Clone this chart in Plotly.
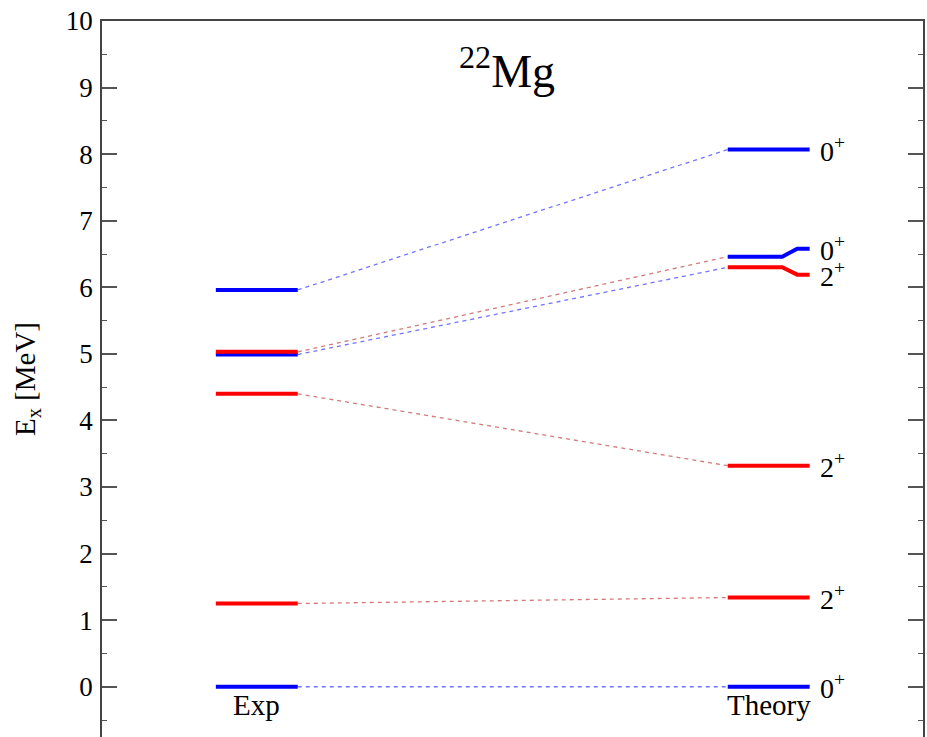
import plotly.graph_objects as go

# ---- data (MeV) ----
columns = ["Exp", "Theory"]
exp_levels = [0.0, 1.25, 4.40, 5.03, 4.99, 5.96]
exp_spin = [0, 2, 2, 2, 0, 0]
theory_levels = [0.0, 1.34, 3.32, 6.30, 6.46, 8.07]
theory_end_levels = [0.0, 1.34, 3.32, 6.19, 6.58, 8.07]
theory_spin = [0, 2, 2, 2, 0, 0]
theory_labels = ["0<sup>+</sup>", "2<sup>+</sup>", "2<sup>+</sup>", "2<sup>+</sup>", "0<sup>+</sup>", "0<sup>+</sup>"]
# exp index -> theory index
links = [(0, 0), (1, 1), (2, 2), (3, 4), (4, 3), (5, 5)]
y_ticks = [0, 1, 2, 3, 4, 5, 6, 7, 8, 9, 10]

# ---- styles / geometry ----
SERIF = "Liberation Serif, Times New Roman, serif"
level_col = {0: "#0000ff", 2: "#ff0000"}
dash_col = {0: "rgba(90,90,255,0.85)", 2: "rgba(200,100,100,0.85)"}
EXP_X = (0.0, 1.0)
TH_X = (6.25, 7.25)
KINK = (6.915, 7.098)

fig = go.Figure()

# connectors
for ei, ti in links:
    fig.add_trace(go.Scatter(
        x=[EXP_X[1], TH_X[0]], y=[exp_levels[ei], theory_levels[ti]],
        mode="lines", line=dict(color=dash_col[exp_spin[ei]], width=1.3, dash="4px,4px"),
        hoverinfo="skip", showlegend=False))

# exp levels (blue first, red on top)
order = sorted(range(len(exp_levels)), key=lambda i: exp_spin[i])
for i in order:
    fig.add_trace(go.Scatter(
        x=list(EXP_X), y=[exp_levels[i], exp_levels[i]], mode="lines",
        line=dict(color=level_col[exp_spin[i]], width=4), showlegend=False))

# theory levels
for i, lv in enumerate(theory_levels):
    end = theory_end_levels[i]
    if abs(end - lv) > 1e-9:
        xs = [TH_X[0], KINK[0], KINK[1], TH_X[1]]
        ys = [lv, lv, end, end]
    else:
        xs = list(TH_X)
        ys = [lv, lv]
    fig.add_trace(go.Scatter(
        x=xs, y=ys, mode="lines",
        line=dict(color=level_col[theory_spin[i]], width=4), showlegend=False))
    fig.add_annotation(x=TH_X[1] + 0.1, y=end, text=theory_labels[i], showarrow=False,
                       xanchor="left", yanchor="middle",
                       font=dict(family=SERIF, size=28, color="black"))

# column labels
for name, xr in zip(columns, [EXP_X, TH_X]):
    fig.add_annotation(x=(xr[0] + xr[1]) / 2, y=-0.28, text=name, showarrow=False,
                       xanchor="center", yanchor="middle",
                       font=dict(family=SERIF, size=29, color="black"))

# title
fig.add_annotation(x=3.55, y=9.3, text="<sup>22</sup>Mg", showarrow=False,
                   xanchor="center", yanchor="middle",
                   font=dict(family=SERIF, size=46, color="black"))

fig.update_layout(
    width=927, height=737,
    margin=dict(l=102, r=4, t=21, b=0),
    plot_bgcolor="white", paper_bgcolor="white",
    xaxis=dict(range=[-1.39, 8.634], showgrid=False, zeroline=False,
               showticklabels=False, ticks="", showline=True, side="top",
               linecolor="#444", linewidth=1.5, fixedrange=True),
    yaxis=dict(range=[-0.755, 10], tickvals=y_ticks, showgrid=False, zeroline=False,
               ticks="inside", ticklen=15, tickwidth=1.5, tickcolor="#555",
               showline=True, mirror="ticks", linecolor="#444", linewidth=1.5,
               minor=dict(ticks="inside", ticklen=5, dtick=0.5, tickcolor="#555", tickwidth=1.3),
               tickfont=dict(family=SERIF, size=27, color="black"),
               ticklabelstandoff=2,
               title=dict(text="E<sub>x</sub> [MeV]", standoff=22,
                          font=dict(family=SERIF, size=29, color="black"))),
)

fig.write_html("out.html")
